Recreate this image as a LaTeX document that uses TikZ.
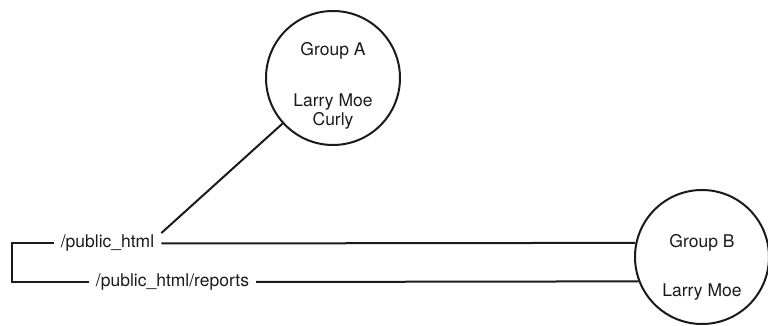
\documentclass[tikz,border=0pt]{standalone}
\usepackage{fontspec}
\setmainfont{TeX Gyre Heros}
\usepackage{tikz}
\usetikzlibrary{calc,positioning}
\definecolor{inkc}{HTML}{1A1A1A}
\tikzset{
  ln/.style={line width=2pt,inkc},
  grp/.style={circle,draw=inkc,line width=2pt,minimum size=134pt,inner sep=0pt},
  txt/.style={font=\fontsize{17.5}{18.5}\selectfont,text=inkc,align=center,inner sep=0pt},
  dir/.style={font=\fontsize{17.5}{18.5}\selectfont,text=inkc,inner xsep=7pt,inner ysep=2pt}
}
\begin{document}
\begin{tikzpicture}[x=1pt,y=1pt]
\useasboundingbox (0,0) rectangle (768,326);
\node[grp] (ga) at (333,248) {};
\node[grp] (gb) at (702,69) {};
\node[txt] (gatitle) at ($(ga)+(0,27.5)$) {Group A};
\node[txt] (gausers) at ($(ga)+(0,-33.4)$) {Larry Moe\\Curly};
\node[txt] (gbtitle) at ($(gb)+(0,14.5)$) {Group B};
\node[txt] (gbusers) at ($(gb)+(0,-35.5)$) {Larry Moe};
\node[dir] (pub) at (107.5,82.5) {/public\_html};
\node[dir] (rep) at (172.5,44) {/public\_html/reports};
\coordinate (brk) at (12,60);
% bracket on the left
\draw[ln] (pub.west) -- (pub.west -| brk) -- (rep.west -| brk) -- (rep.west);
\draw[ln] (pub.east) -- (gb.168.5);
\draw[ln] (rep.east) -- (gb.201.6);
\draw[ln] (pub.north east) -- (ga);
\end{tikzpicture}
\end{document}
